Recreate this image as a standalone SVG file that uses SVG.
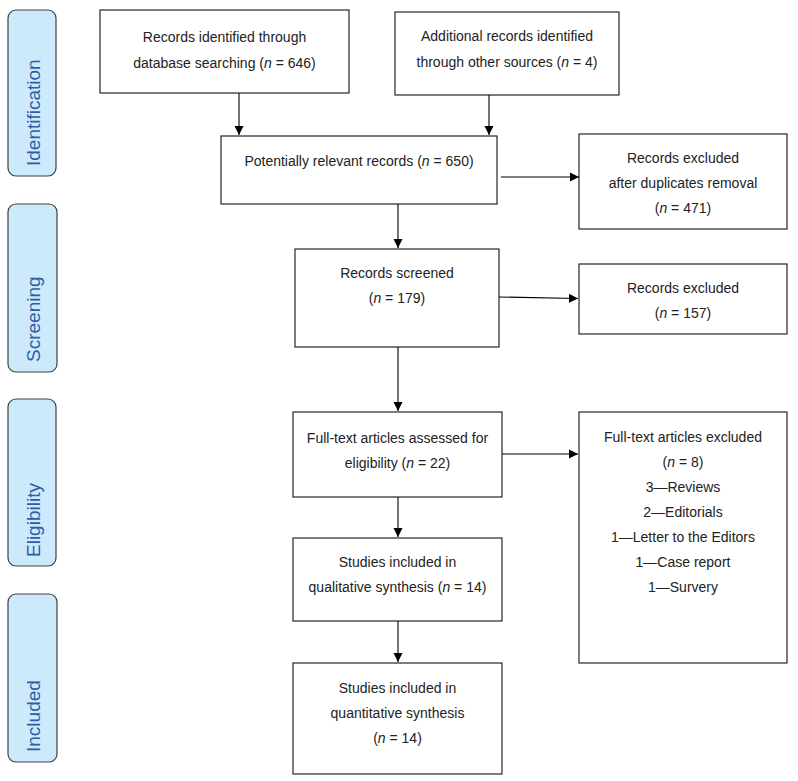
<svg xmlns="http://www.w3.org/2000/svg" width="798" height="781" viewBox="0 0 798 781">
<defs>
<marker id="ah" markerWidth="10" markerHeight="10" refX="9" refY="5" orient="auto" markerUnits="userSpaceOnUse">
<path d="M0,0.5 L9,5 L0,9.5 Z" fill="#000"/>
</marker>
<style>
.box{fill:#fff;stroke:#262626;stroke-width:1.2}
.pill{fill:#cdeafc;stroke:#404040;stroke-width:1.2}
.t{font-family:"Liberation Sans",Arial,sans-serif;font-size:14px;fill:#222;text-anchor:middle}
.p{font-family:"Liberation Sans",Arial,sans-serif;font-size:19px;fill:#2f5ca6;text-anchor:start}
.c{stroke:#000;stroke-width:1.1;fill:none;marker-end:url(#ah)}
</style>
</defs>
<rect width="798" height="781" fill="#fff"/>
<g id="stage-identification"><rect class="pill" x="8" y="10" width="48" height="166" rx="8"/><text class="p" transform="translate(39.5,166) rotate(-90)">Identification</text></g>
<g id="stage-screening"><rect class="pill" x="8" y="204" width="49" height="168" rx="8"/><text class="p" transform="translate(39.5,362) rotate(-90)">Screening</text></g>
<g id="stage-eligibility"><rect class="pill" x="8" y="399" width="48" height="167" rx="8"/><text class="p" transform="translate(39.5,557) rotate(-90)">Eligibility</text></g>
<g id="stage-included"><rect class="pill" x="8" y="594" width="49" height="168" rx="8"/><text class="p" transform="translate(39.5,752) rotate(-90)">Included</text></g>

<g id="n-db"><rect class="box" x="100" y="10" width="249" height="83"/>
<text class="t" x="224.5" y="42">Records identified through</text>
<text class="t" x="224.5" y="68">database searching (<tspan font-style="italic">n</tspan> = 646)</text></g>
<g id="n-other"><rect class="box" x="395" y="12" width="224" height="83"/>
<text class="t" x="507" y="41">Additional records identified</text>
<text class="t" x="507" y="67">through other sources (<tspan font-style="italic">n</tspan> = 4)</text></g>
<g id="n-relevant"><rect class="box" x="221" y="136" width="276" height="68"/>
<text class="t" x="359" y="166">Potentially relevant records (<tspan font-style="italic">n</tspan> = 650)</text></g>
<g id="n-dup"><rect class="box" x="579" y="134" width="208" height="95"/>
<text class="t" x="683" y="163">Records excluded</text>
<text class="t" x="683" y="188">after duplicates removal</text>
<text class="t" x="683" y="213">(<tspan font-style="italic">n</tspan> = 471)</text></g>
<g id="n-screened"><rect class="box" x="295" y="249" width="204" height="98"/>
<text class="t" x="397" y="278">Records screened</text>
<text class="t" x="397" y="303">(<tspan font-style="italic">n</tspan> = 179)</text></g>
<g id="n-excl"><rect class="box" x="579" y="264" width="208" height="70"/>
<text class="t" x="683" y="293">Records excluded</text>
<text class="t" x="683" y="318">(<tspan font-style="italic">n</tspan> = 157)</text></g>
<g id="n-fulltext"><rect class="box" x="293" y="412" width="209" height="85"/>
<text class="t" x="397.5" y="443">Full-text articles assessed for</text>
<text class="t" x="397.5" y="468">eligibility (<tspan font-style="italic">n</tspan> = 22)</text></g>
<g id="n-ftexcl"><rect class="box" x="579" y="412" width="208" height="251"/>
<text class="t" x="683" y="442">Full-text articles excluded</text>
<text class="t" x="683" y="467">(<tspan font-style="italic">n</tspan> = 8)</text>
<text class="t" x="683" y="492">3—Reviews</text>
<text class="t" x="683" y="517">2—Editorials</text>
<text class="t" x="683" y="542">1—Letter to the Editors</text>
<text class="t" x="683" y="567">1—Case report</text>
<text class="t" x="683" y="592">1—Survery</text></g>
<g id="n-qual"><rect class="box" x="293" y="538" width="209" height="83"/>
<text class="t" x="397.5" y="567">Studies included in</text>
<text class="t" x="397.5" y="592">qualitative synthesis (<tspan font-style="italic">n</tspan> = 14)</text></g>
<g id="n-quant"><rect class="box" x="293" y="663" width="209" height="111"/>
<text class="t" x="397.5" y="693">Studies included in</text>
<text class="t" x="397.5" y="718">quantitative synthesis</text>
<text class="t" x="397.5" y="743">(<tspan font-style="italic">n</tspan> = 14)</text></g>

<g id="connectors">
<line class="c" x1="239" y1="93" x2="239" y2="135"/>
<line class="c" x1="489" y1="95" x2="489" y2="135"/>
<line class="c" x1="501" y1="177" x2="579" y2="177"/>
<line class="c" x1="398" y1="204" x2="398" y2="248"/>
<line class="c" x1="499" y1="297" x2="578" y2="298.5"/>
<line class="c" x1="398" y1="347" x2="398" y2="411"/>
<line class="c" x1="502" y1="454" x2="578" y2="454"/>
<line class="c" x1="398" y1="497" x2="398" y2="537"/>
<line class="c" x1="398" y1="621" x2="398" y2="662"/>
</g>
</svg>
